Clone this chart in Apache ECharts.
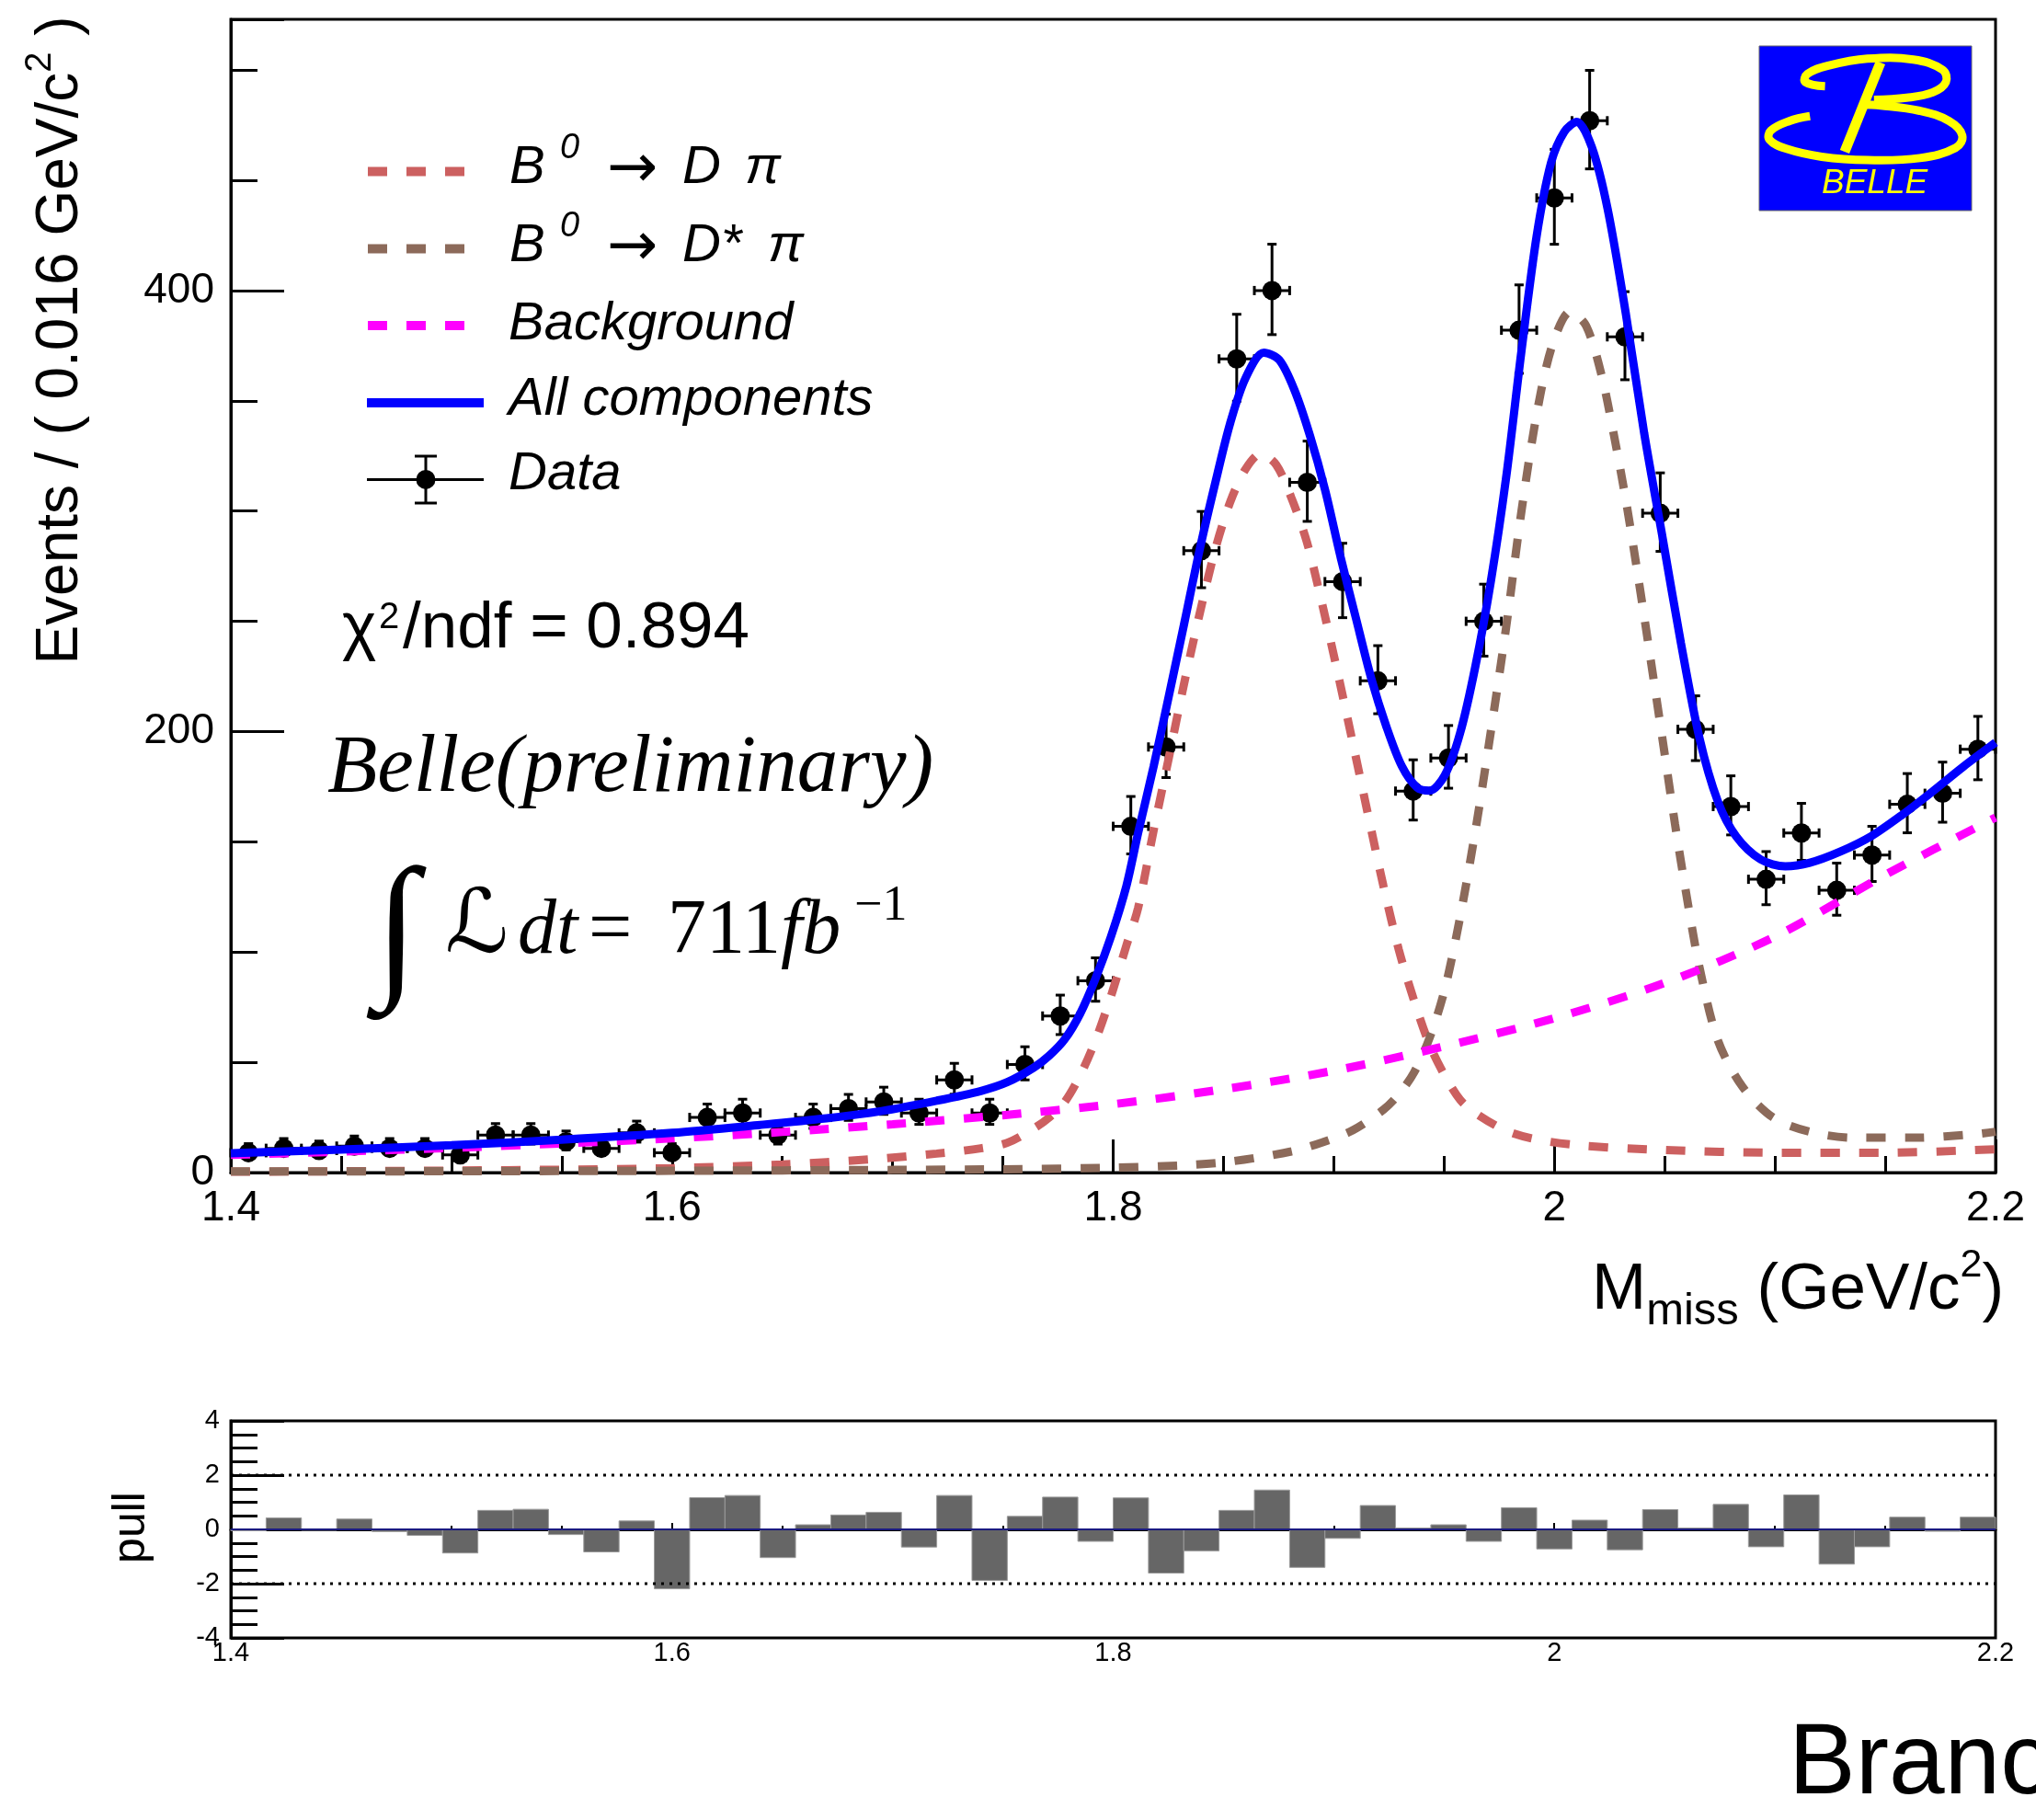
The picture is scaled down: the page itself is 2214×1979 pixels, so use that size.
<!DOCTYPE html>
<html><head><meta charset="utf-8">
<script src="https://cdn.jsdelivr.net/npm/echarts@6/dist/echarts.min.js"></script>
<style>html,body{margin:0;padding:0;background:#fff;overflow:hidden}#c{width:2214px;height:1979px}</style>
</head><body><div id="c"></div><script>
// ---------------- data ----------------
const binCenters = [1.408,1.424,1.440,1.456,1.472,1.488,1.504,1.520,1.536,1.552,
  1.568,1.584,1.600,1.616,1.632,1.648,1.664,1.680,1.696,1.712,
  1.728,1.744,1.760,1.776,1.792,1.808,1.824,1.840,1.856,1.872,
  1.888,1.904,1.920,1.936,1.952,1.968,1.984,2.000,2.016,2.032,
  2.048,2.064,2.080,2.096,2.112,2.128,2.144,2.160,2.176,2.192];
const binHalfWidth = 0.008;
const counts = [9,11,10,12,11,11,8,17,17,14,
  11,18,9,25,27,17,25,29,32,27,
  42,27,49,71,87,157,193,282,369,400,
  313,268,223,173,188,250,382,442,477,379,
  299,201,166,133,154,128,144,167,172,192];
const errLow = [2.94,3.27,3.11,3.42,3.27,3.27,2.77,4.08,4.08,3.70,
  3.27,4.20,2.94,4.95,5.15,4.08,4.95,5.34,5.62,5.15,
  6.46,5.15,6.98,8.41,9.31,12.5,13.87,16.77,19.19,19.99,
  17.68,16.36,14.92,13.14,13.70,15.80,19.54,21.02,21.84,19.46,
  17.29,14.17,12.88,11.53,12.41,11.31,12.0,12.92,13.11,13.86];
const errHigh = [4.12,4.43,4.28,4.57,4.43,4.43,3.96,5.21,5.21,4.84,
  4.43,5.33,4.12,6.07,6.27,5.21,6.07,6.45,6.72,6.27,
  7.54,6.27,8.05,9.47,10.37,13.56,14.92,17.82,20.23,21.02,
  18.71,17.39,15.96,14.18,14.74,16.84,20.56,22.04,22.86,20.49,
  18.31,15.20,13.91,12.57,13.44,12.35,13.03,13.95,14.14,14.88];
const pulls = [-0.05,0.42,-0.03,0.38,-0.08,-0.22,-0.87,0.70,0.74,-0.19,
  -0.83,0.31,-2.19,1.17,1.25,-1.04,0.17,0.53,0.63,-0.65,
  1.25,-1.88,0.48,1.19,-0.44,1.16,-1.61,-0.79,0.70,1.45,
  -1.40,-0.33,0.88,0.05,0.17,-0.44,0.80,-0.72,0.34,-0.75,
  0.73,0.05,0.92,-0.64,1.27,-1.28,-0.64,0.45,-0.07,0.45];
const totalCurve = [[1.400,8.8],[1.450,10.4],[1.500,12.4],[1.550,14.9],[1.600,18.0],[1.640,21.6],[1.670,24.6],[1.695,27.9],[1.720,32.6],[1.740,37.0],[1.752,41.0],[1.764,47.6],[1.771,53.0],[1.778,60.4],[1.785,72.0],[1.792,88.0],[1.799,107.0],[1.806,130.0],[1.8113,154.0],[1.8183,184.0],[1.8252,216.0],[1.8322,249.0],[1.8391,282.0],[1.8461,312.0],[1.853,339.7],[1.860,360.3],[1.8683,371.8],[1.8753,368.5],[1.8822,354.8],[1.8892,334.2],[1.8961,309.4],[1.9031,279.1],[1.910,251.6],[1.917,224.1],[1.9239,202.1],[1.9309,184.2],[1.9378,174.6],[1.9434,173.2],[1.9503,180.1],[1.9573,199.4],[1.9642,229.6],[1.9712,268.1],[1.9781,314.9],[1.9851,372.7],[1.992,424.9],[1.9985,458.0],[2.0045,472.0],[2.0102,476.5],[2.0170,465.0],[2.0241,437.2],[2.0324,389.5],[2.0407,335.4],[2.0491,287.7],[2.0574,240.0],[2.0658,197.0],[2.0741,168.4],[2.0824,152.5],[2.0935,142.0],[2.1047,138.9],[2.1158,140.5],[2.1297,145.6],[2.1436,152.5],[2.1575,162.1],[2.1714,172.8],[2.1853,184.0],[2.200,195.0]];
const dpiCurve = [[1.400,0.4],[1.450,0.6],[1.500,0.9],[1.550,1.3],[1.600,2.0],[1.650,3.7],[1.690,6.0],[1.720,8.6],[1.740,11.0],[1.752,13.5],[1.764,20.0],[1.771,25.0],[1.778,32.0],[1.785,44.0],[1.792,60.0],[1.799,80.0],[1.806,103.0],[1.8113,120.0],[1.8183,155.0],[1.8252,188.0],[1.8322,222.0],[1.8391,253.0],[1.8461,282.0],[1.853,304.0],[1.860,319.0],[1.8669,326.0],[1.8739,321.0],[1.8808,306.0],[1.8878,286.0],[1.8947,258.0],[1.9017,227.0],[1.9086,195.0],[1.9156,162.0],[1.9225,130.0],[1.9295,101.0],[1.9364,78.0],[1.9434,58.0],[1.9503,44.0],[1.9573,33.0],[1.9642,27.0],[1.9781,19.0],[1.992,15.0],[2.013,12.2],[2.050,10.2],[2.100,9.0],[2.150,9.0],[2.200,10.6]];
const dstarpiCurve = [[1.400,0.5],[1.500,0.6],[1.600,0.8],[1.700,1.2],[1.750,1.5],[1.800,2.2],[1.830,3.2],[1.853,5.0],[1.8808,9.6],[1.8947,13.7],[1.9086,19.2],[1.9225,28.5],[1.9295,35.5],[1.9364,45.4],[1.9434,61.0],[1.9503,83.0],[1.9573,116.0],[1.9642,155.0],[1.9712,200.0],[1.9781,247.0],[1.9851,300.0],[1.992,344.0],[1.999,375.0],[2.0073,390.5],[2.0144,384.0],[2.0213,362.0],[2.0269,335.0],[2.0324,305.0],[2.038,270.0],[2.0436,233.0],[2.0491,196.0],[2.0547,158.0],[2.0602,124.0],[2.0658,93.0],[2.0741,60.0],[2.0852,39.0],[2.0991,25.0],[2.1158,18.5],[2.1353,15.8],[2.1631,15.8],[2.1909,17.4],[2.200,18.5]];
const bkgCurve = [[1.40,8.0],[1.45,9.5],[1.50,11.2],[1.55,13.2],[1.60,15.5],[1.65,18.4],[1.70,21.9],[1.75,26.0],[1.80,31.0],[1.85,37.8],[1.90,46.2],[1.95,57.2],[2.00,70.0],[2.05,86.0],[2.10,107.0],[2.15,135.0],[2.20,161.0]];

// ---------------- styles ----------------
const SANS = 'Liberation Sans, Arial, Helvetica, sans-serif';
const SERIF = 'Liberation Serif, Times New Roman, serif';
const C_DPI = '#cc6060', C_DST = '#8c6a5a', C_BKG = '#ff00ff', C_TOT = '#0000ff';
const DASH = [21, 21];

const chart = echarts.init(document.getElementById('c'), null, {renderer: 'canvas'});

function dataItem(params, api) {
  const x = api.value(0), y = api.value(1), lo = api.value(2), hi = api.value(3);
  const c = api.coord([x, y]);
  const top = api.coord([x, y + hi]);
  const bot = api.coord([x, y - lo]);
  const l = api.coord([x - binHalfWidth, y]);
  const r = api.coord([x + binHalfWidth, y]);
  const st = {stroke: '#000', lineWidth: 3};
  const cap = 5;
  return {type: 'group', children: [
    {type: 'line', shape: {x1: c[0], y1: top[1], x2: c[0], y2: bot[1]}, style: st},
    {type: 'line', shape: {x1: c[0] - cap, y1: top[1], x2: c[0] + cap, y2: top[1]}, style: st},
    {type: 'line', shape: {x1: c[0] - cap, y1: bot[1], x2: c[0] + cap, y2: bot[1]}, style: st},
    {type: 'line', shape: {x1: l[0], y1: c[1], x2: r[0], y2: c[1]}, style: st},
    {type: 'line', shape: {x1: l[0], y1: c[1] - cap, x2: l[0], y2: c[1] + cap}, style: st},
    {type: 'line', shape: {x1: r[0], y1: c[1] - cap, x2: r[0], y2: c[1] + cap}, style: st},
    {type: 'circle', shape: {cx: c[0], cy: c[1], r: 10.5}, style: {fill: '#000'}}
  ]};
}
function pullItem(params, api) {
  const x = api.value(0), p = api.value(1);
  const a = api.coord([x - binHalfWidth, 0]);
  const b = api.coord([x + binHalfWidth, p]);
  return {type: 'rect', shape: {x: a[0], y: Math.min(a[1], b[1]), width: b[0] - a[0], height: Math.abs(b[1] - a[1])},
    style: {fill: '#666666', stroke: '#9a9a9a', lineWidth: 1}};
}

function txt(x, y, text, size, opts) {
  opts = opts || {};
  return {type: 'text', x: x, y: y, rotation: opts.rotation || 0, z: 100,
    style: {text: text, fontSize: size, fontFamily: opts.family || SANS, fontStyle: opts.italic ? 'italic' : 'normal',
      fill: opts.fill || '#000', align: opts.align || 'left', verticalAlign: 'middle'}};
}

const ARROWFONT = 'DejaVu Sans, sans-serif';
const legendRows = [186.6, 270.5, 354, 438, 521.4];
const graphics = [
  // y-axis title
  {type: 'text', x: 66, y: 370, rotation: Math.PI / 2, z: 100, style: {
    text: '{a|Events / ( 0.016 GeV/c}{s|2}{a| )}', align: 'center', verticalAlign: 'middle',
    rich: {a: {fontSize: 64, fontFamily: SANS, lineHeight: 84, fill: '#000'},
           s: {fontSize: 40, fontFamily: SANS, lineHeight: 40, verticalAlign: 'top', fill: '#000'}}}},
  // x-axis title
  {type: 'text', x: 1731, y: 1355, z: 100, style: {
    text: '{m|M}{b|miss}{m| (GeV/c}{p|2}{m|)}', align: 'left', verticalAlign: 'top',
    rich: {m: {fontSize: 71, fontFamily: SANS, lineHeight: 96, fill: '#000'},
           b: {fontSize: 49, fontFamily: SANS, lineHeight: 38, verticalAlign: 'bottom', fill: '#000'},
           p: {fontSize: 43, fontFamily: SANS, lineHeight: 40, verticalAlign: 'top', fill: '#000'}}}},
  // pull title
  txt(143, 1661, 'pull', 50, {rotation: Math.PI / 2, align: 'center'}),
  // chi2
  txt(372, 684.5, 'χ', 71),
  txt(412, 672, '2', 40),
  txt(438, 684.5, '/ndf = 0.894', 71),
  // Belle preliminary
  txt(356, 837, 'Belle(preliminary)', 89, {family: SERIF, italic: true}),
  // integral luminosity
  txt(431, 1018, '∫', 172, {family: SERIF, align: 'center', italic: true}),
  txt(484, 1010, 'ℒ', 96, {family: 'DejaVu Serif, DejaVu Sans, serif', italic: true}),
  txt(563, 1014, 'dt', 84, {family: SERIF, italic: true}),
  txt(640, 1014, '=', 84, {family: SERIF}),
  txt(726, 1014, '711', 84, {family: SERIF}),
  txt(849, 1014, 'fb', 84, {family: SERIF, italic: true}),
  txt(929, 986, '−1', 54, {family: SERIF}),
  // Brand text (clipped at the edge)
  txt(1945, 1920, 'Branching', 109),
  // legend samples
  {type: 'line', z: 100, shape: {x1: 400, y1: legendRows[0], x2: 505, y2: legendRows[0]}, style: {stroke: C_DPI, lineWidth: 10, lineDash: DASH}},
  {type: 'line', z: 100, shape: {x1: 400, y1: legendRows[1], x2: 505, y2: legendRows[1]}, style: {stroke: C_DST, lineWidth: 10, lineDash: DASH}},
  {type: 'line', z: 100, shape: {x1: 400, y1: legendRows[2], x2: 505, y2: legendRows[2]}, style: {stroke: C_BKG, lineWidth: 10, lineDash: DASH}},
  {type: 'line', z: 100, shape: {x1: 399, y1: legendRows[3], x2: 526, y2: legendRows[3]}, style: {stroke: C_TOT, lineWidth: 10}},
  {type: 'line', z: 100, shape: {x1: 399, y1: legendRows[4], x2: 526, y2: legendRows[4]}, style: {stroke: '#000', lineWidth: 3}},
  {type: 'line', z: 100, shape: {x1: 463, y1: 496, x2: 463, y2: 547}, style: {stroke: '#000', lineWidth: 3}},
  {type: 'line', z: 100, shape: {x1: 451, y1: 496, x2: 475, y2: 496}, style: {stroke: '#000', lineWidth: 3}},
  {type: 'line', z: 100, shape: {x1: 451, y1: 547, x2: 475, y2: 547}, style: {stroke: '#000', lineWidth: 3}},
  {type: 'circle', z: 100, shape: {cx: 463, cy: legendRows[4], r: 10.5}, style: {fill: '#000'}},
  // legend texts
  txt(554, 183, 'B', 58, {italic: true}),
  txt(609, 161, '0', 38, {italic: true}),
  txt(660, 186, '→', 66, {family: ARROWFONT}),
  txt(742, 183, 'D', 58, {italic: true}),
  txt(810, 183, 'π', 58, {italic: true}),
  txt(554, 268, 'B', 58, {italic: true}),
  txt(609, 246, '0', 38, {italic: true}),
  txt(660, 271, '→', 66, {family: ARROWFONT}),
  txt(742, 268, 'D*', 58, {italic: true}),
  txt(835, 268, 'π', 58, {italic: true}),
  txt(553, 353, 'Background', 58, {italic: true}),
  txt(553, 435, 'All components', 58, {italic: true}),
  txt(553, 516, 'Data', 58, {italic: true}),
  // Belle logo
  {type: 'rect', z: 100, shape: {x: 1913, y: 50, width: 231, height: 179}, style: {fill: '#0000ff', stroke: '#666', lineWidth: 1}},
  {type: 'polyline', z: 101, shape: {smooth: 0.4, points: [[1984.6,93.8],[1963.2,89.3],[1965.4,80.4],[1988.1,71.4],[2030.7,63.8],[2080.5,64.7],[2112.4,75.9],[2116,89.3],[2101.8,100.4],[2073.4,106.3],[2037.8,108.5]]},
    style: {stroke: '#ffff00', lineWidth: 9, fill: null}},
  {type: 'polyline', z: 101, shape: {smooth: 0.4, points: [[1968.2,126.3],[1945.5,131.7],[1925.6,142],[1924.2,151.8],[1941.9,161.6],[1981,170.5],[2030.7,174.1],[2087.6,171.9],[2126.6,160.7],[2133.8,147.3],[2119.5,131.7],[2087.6,120.5],[2044.9,114.7],[2023.6,113.8]]},
    style: {stroke: '#ffff00', lineWidth: 9, fill: null}},
  {type: 'line', z: 101, shape: {x1: 2044.9, y1: 68, x2: 2005.9, y2: 165}, style: {stroke: '#ffff00', lineWidth: 11}},
  txt(1981, 200, 'BELLE', 37, {italic: true, fill: '#ffff00'})
];

const option = {
  animation: false,
  backgroundColor: '#ffffff',
  grid: [
    {left: 251, top: 21, width: 1919, height: 1254, show: true, borderColor: '#000', borderWidth: 3, backgroundColor: 'transparent', containLabel: false, outerBoundsMode: 'none'},
    {left: 251, top: 1545, width: 1919, height: 236, show: true, borderColor: '#000', borderWidth: 3, backgroundColor: 'transparent', containLabel: false, outerBoundsMode: 'none'}
  ],
  xAxis: [
    {type: 'value', gridIndex: 0, min: 1.4, max: 2.2, interval: 0.2,
      axisLine: {show: true, lineStyle: {color: '#000', width: 3}},
      axisTick: {show: true, inside: true, length: 36, lineStyle: {color: '#000', width: 3}},
      minorTick: {show: true, splitNumber: 4, length: 18, lineStyle: {color: '#000', width: 3}},
      axisLabel: {show: true, fontSize: 46, fontFamily: SANS, color: '#000', margin: 16, hideOverlap: false},
      splitLine: {show: false}, minorSplitLine: {show: false}},
    {type: 'value', gridIndex: 1, min: 1.4, max: 2.2, interval: 0.2,
      axisLine: {show: true, lineStyle: {color: '#000', width: 3}},
      axisTick: {show: true, inside: true, length: 7, lineStyle: {color: '#000', width: 2}},
      minorTick: {show: true, splitNumber: 4, length: 4, lineStyle: {color: '#000', width: 2}},
      axisLabel: {show: true, fontSize: 29, fontFamily: SANS, color: '#000', margin: 2, hideOverlap: false},
      splitLine: {show: false}, minorSplitLine: {show: false}}
  ],
  yAxis: [
    {type: 'value', gridIndex: 0, position: 'left', min: 0, max: 523, interval: 200,
      axisLine: {show: true, lineStyle: {color: '#000', width: 3}},
      axisTick: {show: true, inside: true, length: 58, lineStyle: {color: '#000', width: 3}},
      axisLabel: {show: true, fontSize: 46, fontFamily: SANS, color: '#000', margin: 18, hideOverlap: false,
        formatter: v => (Math.abs(v % 200) < 1e-6 ? String(v) : '')},
      splitLine: {show: false}},
    {type: 'value', gridIndex: 0, position: 'left', offset: 0, min: 0, max: 523, interval: 50,
      axisLine: {show: false},
      axisTick: {show: true, inside: true, length: 29, lineStyle: {color: '#000', width: 3}},
      axisLabel: {show: false}, splitLine: {show: false}},
    {type: 'value', gridIndex: 1, position: 'left', min: -4, max: 4, interval: 2,
      axisLine: {show: true, lineStyle: {color: '#000', width: 3}},
      axisTick: {show: true, inside: true, length: 58, lineStyle: {color: '#000', width: 3}},
      minorTick: {show: true, splitNumber: 4, length: 29, lineStyle: {color: '#000', width: 3}},
      axisLabel: {show: true, fontSize: 29, fontFamily: SANS, color: '#000', margin: 12, hideOverlap: false},
      splitLine: {show: false}, minorSplitLine: {show: false}}
  ],
  series: [
    {name: 'Data', type: 'custom', xAxisIndex: 0, yAxisIndex: 0, z: 2, silent: true,
      encode: {x: 0, y: 1},
      data: binCenters.map((x, i) => [x, counts[i], errLow[i], errHigh[i]]),
      renderItem: dataItem},
    {name: 'B0 -> D pi', type: 'line', xAxisIndex: 0, yAxisIndex: 0, z: 3, data: dpiCurve, symbol: 'none', smooth: 0.3, silent: true,
      lineStyle: {color: C_DPI, width: 9, type: DASH}},
    {name: 'B0 -> D* pi', type: 'line', xAxisIndex: 0, yAxisIndex: 0, z: 3, data: dstarpiCurve, symbol: 'none', smooth: 0.3, silent: true,
      lineStyle: {color: C_DST, width: 9, type: DASH}},
    {name: 'Background', type: 'line', xAxisIndex: 0, yAxisIndex: 0, z: 3, data: bkgCurve, symbol: 'none', smooth: 0.3, silent: true,
      lineStyle: {color: C_BKG, width: 9, type: DASH}},
    {name: 'All components', type: 'line', xAxisIndex: 0, yAxisIndex: 0, z: 4, data: totalCurve, symbol: 'none', smooth: 0.3, silent: true,
      lineStyle: {color: C_TOT, width: 9}},
    // pull panel
    {name: 'pull', type: 'custom', xAxisIndex: 1, yAxisIndex: 2, z: 2, silent: true, encode: {x: 0, y: 1},
      data: binCenters.map((x, i) => [x, pulls[i]]), renderItem: pullItem},
    {name: 'zero', type: 'line', xAxisIndex: 1, yAxisIndex: 2, z: 3, symbol: 'none', silent: true,
      data: [[1.4, 0], [2.2, 0]], lineStyle: {color: '#1a1a80', width: 2}},
    {name: 'plus2', type: 'line', xAxisIndex: 1, yAxisIndex: 2, z: 3, symbol: 'none', silent: true,
      data: [[1.4, 2], [2.2, 2]], lineStyle: {color: '#000', width: 3, type: [3, 6]}},
    {name: 'minus2', type: 'line', xAxisIndex: 1, yAxisIndex: 2, z: 3, symbol: 'none', silent: true,
      data: [[1.4, -2], [2.2, -2]], lineStyle: {color: '#000', width: 3, type: [3, 6]}}
  ],
  graphic: graphics
};
chart.setOption(option);
</script></body></html>
